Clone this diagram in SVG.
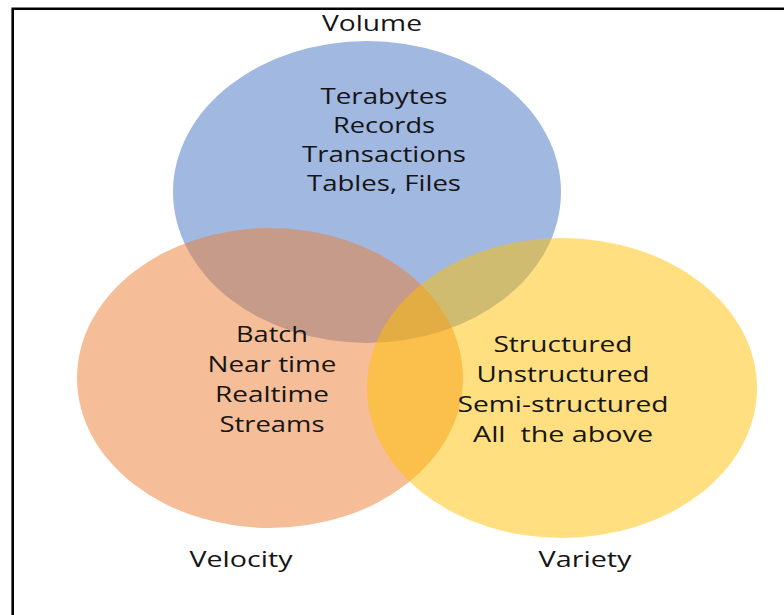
<svg xmlns="http://www.w3.org/2000/svg" width="784" height="615" viewBox="0 0 784 615">
  <style>
    .set { fill-opacity: 0.5; stroke: none; }
    .item, .title { font-family: "Open Sans", "Liberation Sans", sans-serif; font-size: 22px; fill: #151515; text-anchor: middle; }
  </style>
  <rect width="784" height="615" fill="#ffffff"/>
  <!-- frame: top and left edges only -->
  <path d="M12.7 615 V8.7 H784" fill="none" stroke="#000" stroke-width="2.6"/>

  <g id="volume">
    <ellipse class="set" cx="367" cy="192" rx="194" ry="151" fill="#4472c4"/>
  </g>
  <g id="velocity">
    <ellipse class="set" cx="270" cy="378" rx="193" ry="150" fill="#ed7d31"/>
  </g>
  <g id="variety">
    <ellipse class="set" cx="562" cy="388" rx="195" ry="150" fill="#ffc000"/>
  </g>

  <g id="volume-labels">
    <text class="title" x="372" y="31" textLength="100" lengthAdjust="spacingAndGlyphs">Volume</text>
    <text class="item" x="384" y="104" textLength="127" lengthAdjust="spacingAndGlyphs">Terabytes</text>
    <text class="item" x="384" y="133" textLength="102" lengthAdjust="spacingAndGlyphs">Records</text>
    <text class="item" x="384" y="162" textLength="164" lengthAdjust="spacingAndGlyphs">Transactions</text>
    <text class="item" x="384" y="191" textLength="154" lengthAdjust="spacingAndGlyphs">Tables, Files</text>
  </g>
  <g id="velocity-labels">
    <text class="title" x="241" y="567" textLength="103" lengthAdjust="spacingAndGlyphs">Velocity</text>
    <text class="item" x="272" y="342" textLength="72" lengthAdjust="spacingAndGlyphs">Batch</text>
    <text class="item" x="272" y="372" textLength="129" lengthAdjust="spacingAndGlyphs">Near time</text>
    <text class="item" x="272" y="402" textLength="114" lengthAdjust="spacingAndGlyphs">Realtime</text>
    <text class="item" x="272" y="432" textLength="105" lengthAdjust="spacingAndGlyphs">Streams</text>
  </g>
  <g id="variety-labels">
    <text class="title" x="585" y="567" textLength="93" lengthAdjust="spacingAndGlyphs">Variety</text>
    <text class="item" x="563" y="352" textLength="139" lengthAdjust="spacingAndGlyphs">Structured</text>
    <text class="item" x="563" y="382" textLength="173" lengthAdjust="spacingAndGlyphs">Unstructured</text>
    <text class="item" x="563" y="412" textLength="211" lengthAdjust="spacingAndGlyphs">Semi-structured</text>
    <text class="item" x="563" y="442" textLength="180" lengthAdjust="spacingAndGlyphs" xml:space="preserve">All  the above</text>
  </g>
</svg>
